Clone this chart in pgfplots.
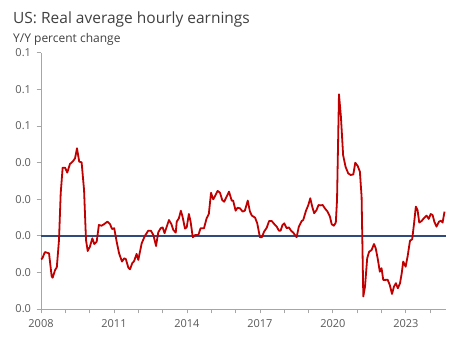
\documentclass[border=0pt]{standalone}
\usepackage{pgfplots}
\pgfplotsset{compat=1.18}
\usepackage{fontspec}
\setmainfont{Open Sans}
\definecolor{linered}{HTML}{C00000}
\definecolor{zeroblue}{HTML}{2F4B7C}
\definecolor{axisgray}{HTML}{A6A6A6}
\definecolor{txtgray}{HTML}{595959}
\definecolor{titlegray}{HTML}{404040}
\begin{document}
\begin{tikzpicture}
\useasboundingbox (-41pt,-43pt) rectangle (431pt,309pt);
\node[anchor=base west, inner sep=0pt, text=titlegray, font=\fontsize{15.5}{18}\selectfont] at (-28pt,285.7pt) {US: Real average hourly earnings};
\node[anchor=base west, inner sep=0pt, text=titlegray, font=\fontsize{12}{14}\selectfont] at (-28pt,266.3pt) {Y/Y percent change};
\begin{axis}[
  scale only axis,
  width=405pt, height=256.3pt,
  xmin=2008, xmax=2024.65,
  ymin=-0.04, ymax=0.10,
  axis x line*=bottom, axis y line*=left,
  axis line style={axisgray, line width=0.8pt, -},
  xtick={2008,2011,2014,2017,2020,2023},
  xticklabels={2008,2011,2014,2017,2020,2023},
  minor xtick={2009,2010,2012,2013,2015,2016,2018,2019,2021,2022,2024},
  ytick={-0.04,-0.02,0,0.02,0.04,0.06,0.08,0.10},
  yticklabels={0.0,0.0,0.0,0.0,0.0,0.1,0.1,0.1},
  tick align=outside,
  major tick length=4.5pt, minor tick length=4.5pt,
  tick style={axisgray, line width=0.8pt},
  every minor tick/.style={axisgray, line width=0.8pt},
  ticklabel style={text=txtgray, font=\fontsize{11}{13}\selectfont},
  xticklabel style={yshift=-2pt},
  yticklabel style={xshift=-2pt},
  clip=false,
]
\addplot[zeroblue, line width=1.9pt, forget plot] coordinates {(2008,0) (2024.65,0)};
\addplot[linered, line width=1.8pt, line join=round] table {
x y
2008.00 -0.0127
2008.05 -0.0125
2008.16 -0.0089
2008.33 -0.0096
2008.44 -0.0223
2008.48 -0.0229
2008.58 -0.0187
2008.65 -0.0172
2008.74 -0.0023
2008.81 0.0232
2008.89 0.0372
2008.99 0.0372
2009.08 0.0345
2009.19 0.0392
2009.30 0.0405
2009.40 0.0423
2009.48 0.0478
2009.57 0.0405
2009.67 0.0401
2009.77 0.0250
2009.85 -0.0023
2009.92 -0.0083
2010.01 -0.0060
2010.11 -0.0014
2010.19 -0.0045
2010.29 -0.0032
2010.38 0.0059
2010.49 0.0055
2010.60 0.0064
2010.73 0.0077
2010.84 0.0063
2010.92 0.0037
2011.01 0.0041
2011.11 -0.0032
2011.21 -0.0096
2011.33 -0.0141
2011.42 -0.0123
2011.49 -0.0128
2011.59 -0.0174
2011.66 -0.0183
2011.75 -0.0150
2011.83 -0.0138
2011.93 -0.0099
2012.00 -0.0132
2012.14 -0.0041
2012.27 -0.0001
2012.41 0.0028
2012.52 0.0027
2012.62 0.0004
2012.73 -0.0056
2012.82 0.0019
2012.92 0.0041
2013.00 0.0046
2013.08 0.0014
2013.17 0.0050
2013.26 0.0086
2013.36 0.0064
2013.44 0.0032
2013.54 0.0017
2013.58 0.0077
2013.67 0.0096
2013.75 0.0137
2013.82 0.0104
2013.92 0.0039
2013.99 0.0046
2014.08 0.0119
2014.15 0.0077
2014.24 -0.0008
2014.34 0.0004
2014.47 0.0004
2014.56 0.0041
2014.70 0.0041
2014.81 0.0096
2014.90 0.0119
2014.99 0.0235
2015.08 0.0199
2015.18 0.0223
2015.26 0.0245
2015.36 0.0235
2015.45 0.0195
2015.53 0.0186
2015.63 0.0213
2015.73 0.0241
2015.84 0.0192
2015.90 0.0192
2016.00 0.0137
2016.08 0.0153
2016.18 0.0150
2016.29 0.0132
2016.38 0.0137
2016.50 0.0192
2016.59 0.0132
2016.67 0.0110
2016.80 0.0099
2016.89 0.0068
2017.00 -0.0008
2017.08 -0.0008
2017.17 0.0022
2017.28 0.0044
2017.38 0.0081
2017.48 0.0081
2017.59 0.0064
2017.69 0.0050
2017.78 0.0028
2017.85 0.0028
2017.93 0.0059
2018.00 0.0068
2018.10 0.0041
2018.19 0.0046
2018.28 0.0028
2018.37 0.0017
2018.51 -0.0008
2018.60 0.0050
2018.72 0.0081
2018.78 0.0086
2018.89 0.0135
2018.99 0.0168
2019.07 0.0205
2019.15 0.0159
2019.23 0.0123
2019.33 0.0141
2019.41 0.0168
2019.50 0.0166
2019.58 0.0168
2019.67 0.0150
2019.78 0.0132
2019.88 0.0104
2019.95 0.0063
2020.04 0.0055
2020.12 0.0072
2020.17 0.0195
2020.25 0.0773
2020.33 0.0650
2020.42 0.0441
2020.52 0.0377
2020.63 0.0341
2020.73 0.0332
2020.84 0.0335
2020.92 0.0399
2021.02 0.0381
2021.11 0.0350
2021.18 0.0213
2021.25 -0.0332
2021.32 -0.0278
2021.41 -0.0123
2021.49 -0.0087
2021.59 -0.0078
2021.69 -0.0045
2021.76 -0.0068
2021.84 -0.0123
2021.93 -0.0196
2022.00 -0.0177
2022.07 -0.0241
2022.17 -0.0241
2022.25 -0.0240
2022.34 -0.0269
2022.43 -0.0318
2022.51 -0.0278
2022.59 -0.0259
2022.67 -0.0287
2022.76 -0.0259
2022.83 -0.0205
2022.89 -0.0141
2022.99 -0.0169
2023.07 -0.0114
2023.17 -0.0027
2023.26 -0.0019
2023.33 0.0059
2023.41 0.0159
2023.48 0.0141
2023.55 0.0072
2023.65 0.0081
2023.74 0.0096
2023.85 0.0110
2023.94 0.0092
2024.02 0.0119
2024.10 0.0113
2024.17 0.0077
2024.26 0.0050
2024.36 0.0077
2024.44 0.0082
2024.51 0.0072
2024.59 0.0132
};
\end{axis}
\end{tikzpicture}
\end{document}
